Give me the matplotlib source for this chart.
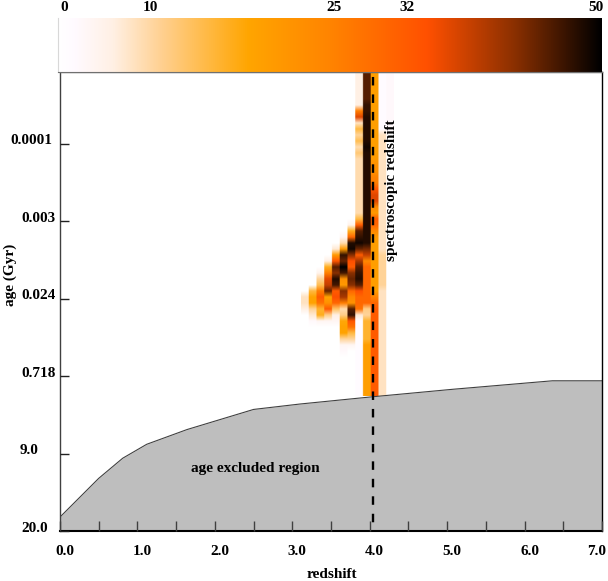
import matplotlib
matplotlib.use('Agg')
import matplotlib.pyplot as plt
import numpy as np
from matplotlib.colors import LinearSegmentedColormap
from matplotlib.transforms import ScaledTranslation

# colour bar
bar_labels = ['0', '10', '25', '32', '50']
bar_label_pos = [0.011, 0.169, 0.507, 0.641, 0.989]
cmap_stops = [0, 1.5, 5, 9.5, 17.5, 25, 34, 42, 50]
cmap_colors = ['#ffffff', '#fffaff', '#fff0e4', '#ffd090', '#ffa500', '#ff8400', '#ff5000', '#8b3000', '#000000']

# age-excluded boundary, age axis is categorical so y is the tick position
bound_z = [0, 0.5, 0.81, 1.12, 1.64, 2.5, 3.1, 4.0, 5.07, 6.36, 7]
bound_y = [0.18, 0.68, 0.94, 1.12, 1.31, 1.57, 1.64, 1.73, 1.83, 1.94, 1.94]

age_labels = ['20.0', '9.0', '0.718', '0.024', '0.003', '0.0001']
z_labels = ['0.0', '', '1.0', '', '2.0', '', '3.0', '', '4.0', '', '5.0', '', '6.0', '', '7.0']
spec_z = 4.04

# heat map cells, one list per redshift bin, from the top row down (54 rows)
c0 = [0]*37 + [7, 7, 5] + [0]*14
c1 = [0]*36 + [14, 18, 18, 9, 6, 2] + [0]*12
c2 = [0]*33 + [4, 9, 13, 26, 32, 28, 15, 16, 3] + [0]*12
c3 = [0]*31 + [5, 16, 26, 36, 38, 44, 18, 22, 32, 10, 3] + [0]*12
c4 = [0]*29 + [6, 20, 33, 45, 42, 48, 46, 32, 34, 30, 12, 5, 3] + [0]*12
c5 = [0]*27 + [3, 8, 20, 47, 44, 50, 46, 22, 20, 42, 40, 26, 8, 10, 17, 18, 18, 9, 3, 2] + [0]*7
c6 = [0]*25 + [4, 16, 30, 48, 49, 42, 34, 32, 42, 44, 42, 30, 24, 22, 45, 47, 33, 28, 14, 9, 3] + [0]*8
c7 = [5]*6 + [26, 36, 7, 14, 9, 13, 8, 11] + [8]*10 + [14, 32, 45, 47, 49, 44, 32, 40, 45, 47, 48, 45, 34, 30, 30, 28, 6] + [1]*13
c8 = [45]*5 + [47]*2 + [48]*5 + [49] + [48]*16 + [43, 38, 24] + [30]*7 + [10, 9] + [15]*4 + [19]*9
c9 = [19]*14 + [20, 22, 22, 25, 26, 33, 36, 36, 24, 20, 32, 30, 24, 20] + [19]*9 + [25, 30] + [32]*15
c10 = [1]*10 + [7]*20 + [9]*6 + [7]*18
c11 = [2]*10 + [0]*44

cmap = LinearSegmentedColormap.from_list('heat', [(s / 50, c) for s, c in zip(cmap_stops, cmap_colors)])
plt.rcParams['font.family'] = 'Liberation Serif'
plt.rcParams['font.weight'] = 'bold'
FONTSIZE = 11

fig = plt.figure(figsize=(6.08, 5.81), dpi=100)
ax = fig.add_axes([60 / 608, 1 - 531 / 581, 542 / 608, 459 / 581])
cax = fig.add_axes([58 / 608, 1 - 72 / 581, 544 / 608, 54 / 581])

# colour bar on top
cax.imshow(np.linspace(0, 50, 256).reshape(1, -1), cmap=cmap, vmin=0, vmax=50, aspect='auto', extent=[0, 1, 0, 1])
cax.set_yticks([])
cax.set_xticks(bar_label_pos)
cax.set_xticklabels(bar_labels, fontsize=FONTSIZE)
cax.xaxis.tick_top()
cax.tick_params(axis='x', length=0, pad=3)
for side in ['right', 'top']:
    cax.spines[side].set_visible(False)
cax.spines['left'].set_color('#d8d8d8')
cax.spines['bottom'].set_color('#707070')

# heat map, columns stay sharp and the rows blur like in the original
cols = np.array([c0, c1, c2, c3, c4, c5, c6, c7, c8, c9, c10, c11]).T
z_start = 3.11
z_stop = z_start + 0.1 * cols.shape[1]
y_top = (531 - 72) / 77.43
y_bottom = (531 - (72 + 6 * cols.shape[0])) / 77.43
ax.imshow(np.repeat(cols, 12, axis=1), cmap=cmap, vmin=0, vmax=50, interpolation='bilinear', aspect='auto',
          extent=[z_start, z_stop, y_bottom, y_top], zorder=1)

# excluded region
ax.fill_between(bound_z, 0, bound_y, color='#bebebe', lw=0, zorder=1.5)
ax.plot(bound_z, bound_y, color='#404040', lw=0.8, zorder=1.6)
ax.plot([spec_z, spec_z], [y_top, 0], color='black', lw=1.7, linestyle=(5.3, (3.6, 3.8)), zorder=4)

ax.text(2.52, 0.81, 'age excluded region', ha='center', va='center', fontsize=FONTSIZE, zorder=5)
ax.text(4.28, 4.4, 'spectroscopic redshift', rotation=90, ha='center', va='center', fontsize=FONTSIZE, zorder=5)

ax.set_xlim(0, 7)
ax.set_ylim(0, 459 / 77.43)
ax.set_axisbelow(False)
ax.set_xticks(np.arange(0, 7.5, 0.5))
ax.set_xticklabels(z_labels, fontsize=FONTSIZE)
ax.set_yticks(range(6))
ax.set_yticklabels(age_labels, fontsize=FONTSIZE)
ax.tick_params(axis='x', direction='in', length=7, width=1, color='#404040', pad=10)
ax.tick_params(axis='y', direction='in', length=6.5, width=1, color='#202020', pad=3)

# labels sit a little off their ticks in the original
for i, lab in enumerate(ax.get_xticklabels()):
    dx = -5 if i == 14 else 5
    lab.set_transform(lab.get_transform() + ScaledTranslation(dx / 100, 0, fig.dpi_scale_trans))
y_shift = [-8, -17, 0, 0, 0, -3]
for lab, dx in zip(ax.get_yticklabels(), y_shift):
    lab.set_transform(lab.get_transform() + ScaledTranslation(dx / 100, 4.5 / 100, fig.dpi_scale_trans))

for side in ['left', 'right', 'top', 'bottom']:
    ax.spines[side].set_linewidth(1)
ax.spines['left'].set_color('#404040')
ax.spines['top'].set_color('#707070')
ax.spines['bottom'].set_linewidth(1.5)

fig.text(332 / 608, 1 - 574 / 581, 'redshift', ha='center', va='center', fontsize=FONTSIZE)
fig.text(10 / 608, 1 - 275 / 581, 'age (Gyr)', rotation=90, ha='center', va='center', fontsize=FONTSIZE)

fig.savefig('out.png', dpi=100)
